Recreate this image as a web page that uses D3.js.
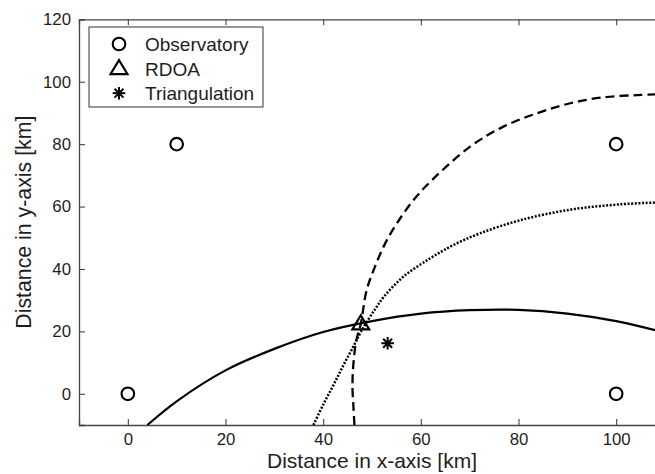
<!DOCTYPE html>
<html>
<head>
<meta charset="utf-8">
<script src="https://cdn.jsdelivr.net/npm/d3@7"></script>
<style>
  html, body { margin: 0; padding: 0; background: #fff; }
  svg { display: block; font-family: "Liberation Sans", Arial, sans-serif; }
</style>
</head>
<body>
<svg id="chart" width="655" height="474"></svg>
<script>
// Observatory positions [km]
const obsX = [0, 10, 100, 100];
const obsY = [0, 80, 80, 0];

// Source estimates [km]
const rdoaPoint = [47.7, 22.4];
const triPoint = [53.2, 16.2];

// Solid curve
const solidX = [4, 10, 20, 30, 40, 50, 60, 70, 80, 90, 100, 110];
const solidY = [-10, -2.4, 7.5, 14.4, 19.8, 23.3, 25.7, 26.8, 26.9, 25.7, 23.3, 19.6];

// Dashed curve
const dashedX = [46.4, 46.2, 46.0, 46.2, 46.8, 47.7, 48.9, 50.6, 52.7, 55.1, 58.5, 62.3, 70.1, 76.9, 83.8, 90.6, 97.4, 104.2, 110];
const dashedY = [-10, -4.2, 2.2, 9.7, 17.2, 22.4, 33.2, 40.7, 48.2, 54.6, 62.1, 68.5, 79.2, 85.6, 89.9, 93.1, 95.0, 95.7, 96.0];

// Dotted curve
const dottedX = [38.0, 40.0, 42.1, 44.2, 46.3, 47.7, 50.5, 52.5, 56.4, 61.9, 66.7, 72.1, 80.3, 90.6, 100.8, 110];
const dottedY = [-10, -3.5, 2.8, 9.3, 15.5, 19.8, 26.8, 31.2, 37.5, 43.4, 47.7, 51.4, 55.6, 59.0, 60.7, 61.4];

// Axis ticks
const xTicks = [0, 20, 40, 60, 80, 100];
const yTicks = [0, 20, 40, 60, 80, 100, 120];

const svg = d3.select("#chart");
const plotLeft = 79, plotRight = 665, plotTop = 19.3, plotBottom = 425;

const x = d3.scaleLinear().domain([-10, 110]).range([plotLeft, plotRight]);
const y = d3.scaleLinear().domain([-10, 120]).range([plotBottom, plotTop]);

const axisColor = "#444";
const textColor = "#1e1e1e";

svg.append("defs").append("clipPath").attr("id", "plot-clip")
  .append("rect").attr("x", plotLeft).attr("y", plotTop)
  .attr("width", plotRight - plotLeft).attr("height", plotBottom - plotTop);

// Frame with inward ticks on all sides
const bottomAxis = d3.axisBottom(x).tickValues(xTicks).tickSize(-6).tickPadding(8).tickFormat(d3.format("d"));
const topAxis = d3.axisTop(x).tickValues(xTicks).tickSize(-6).tickFormat("");
const leftAxis = d3.axisLeft(y).tickValues(yTicks).tickSize(-6).tickPadding(8).tickFormat(d3.format("d"));
const rightAxis = d3.axisRight(y).tickValues(yTicks).tickSize(-6).tickFormat("");

function styleAxis(g) {
  g.select(".domain").attr("stroke", axisColor).attr("stroke-width", 1.3);
  g.selectAll(".tick line").attr("stroke", axisColor).attr("stroke-width", 1.1);
  g.selectAll(".tick text").attr("fill", textColor).attr("font-size", 16.8)
    .attr("font-family", "'Liberation Sans', Arial, sans-serif");
}

svg.append("g").attr("transform", `translate(0,${plotBottom})`).call(bottomAxis).call(styleAxis);
svg.append("g").attr("transform", `translate(0,${plotTop})`).call(topAxis).call(styleAxis);
svg.append("g").attr("transform", `translate(${plotLeft},0)`).call(leftAxis).call(styleAxis);
svg.append("g").attr("transform", `translate(${plotRight},0)`).call(rightAxis).call(styleAxis);

// Curves
const plot = svg.append("g").attr("clip-path", "url(#plot-clip)");
const line = d3.line().x(d => x(d[0])).y(d => y(d[1])).curve(d3.curveCatmullRom.alpha(0.5));

function drawCurve(xs, ys, dash, width) {
  plot.append("path")
    .datum(xs.map((v, i) => [v, ys[i]]))
    .attr("d", line)
    .attr("fill", "none")
    .attr("stroke", "#000")
    .attr("stroke-width", width)
    .attr("stroke-dasharray", dash);
}
drawCurve(solidX, solidY, null, 2.2);
drawCurve(dashedX, dashedY, "9,5", 2.3);
drawCurve(dottedX, dottedY, "2,1.6", 2.5);

// Marker shapes
function circleMarker(g) {
  g.append("circle").attr("r", 6.3).attr("fill", "none").attr("stroke", "#000").attr("stroke-width", 2.1);
}
function triangleMarker(g) {
  g.append("path").attr("d", "M0,-8.5L-8.5,5.5L8.5,5.5Z")
    .attr("fill", "none").attr("stroke", "#000").attr("stroke-width", 2.1).attr("stroke-linejoin", "miter");
}
function asteriskMarker(g) {
  const r = 6.3;
  [0, 45, 90, 135].forEach(a => {
    const t = a * Math.PI / 180;
    g.append("line")
      .attr("x1", -r * Math.cos(t)).attr("y1", -r * Math.sin(t))
      .attr("x2", r * Math.cos(t)).attr("y2", r * Math.sin(t))
      .attr("stroke", "#000").attr("stroke-width", 2);
  });
}

const markers = svg.append("g");
obsX.forEach((v, i) => {
  markers.append("g").attr("transform", `translate(${x(v)},${y(obsY[i])})`).call(circleMarker);
});
markers.append("g").attr("transform", `translate(${x(rdoaPoint[0])},${y(rdoaPoint[1])})`).call(triangleMarker);
markers.append("g").attr("transform", `translate(${x(triPoint[0])},${y(triPoint[1])})`).call(asteriskMarker);

// Axis titles
svg.append("text")
  .attr("x", (plotLeft + plotRight) / 2).attr("y", 468)
  .attr("text-anchor", "middle").attr("font-size", 21).attr("fill", textColor)
  .text("Distance in x-axis [km]");
svg.append("text")
  .attr("transform", `translate(31,${(plotTop + plotBottom) / 2}) rotate(-90)`)
  .attr("text-anchor", "middle").attr("font-size", 21.3).attr("fill", textColor)
  .text("Distance in y-axis [km]");

// Legend
const legendItems = [
  { label: "Observatory", draw: circleMarker },
  { label: "RDOA", draw: triangleMarker },
  { label: "Triangulation", draw: asteriskMarker }
];
const legend = svg.append("g");
legend.append("rect").attr("x", 89).attr("y", 27).attr("width", 174).attr("height", 80)
  .attr("fill", "#fff").attr("stroke", axisColor).attr("stroke-width", 1.1);
legendItems.forEach((item, i) => {
  const cy = 44 + i * 24.6;
  legend.append("g").attr("transform", `translate(119,${cy})`).call(item.draw);
  legend.append("text").attr("x", 145).attr("y", cy + 7)
    .attr("font-size", 19).attr("fill", textColor).text(item.label);
});
</script>
</body>
</html>
